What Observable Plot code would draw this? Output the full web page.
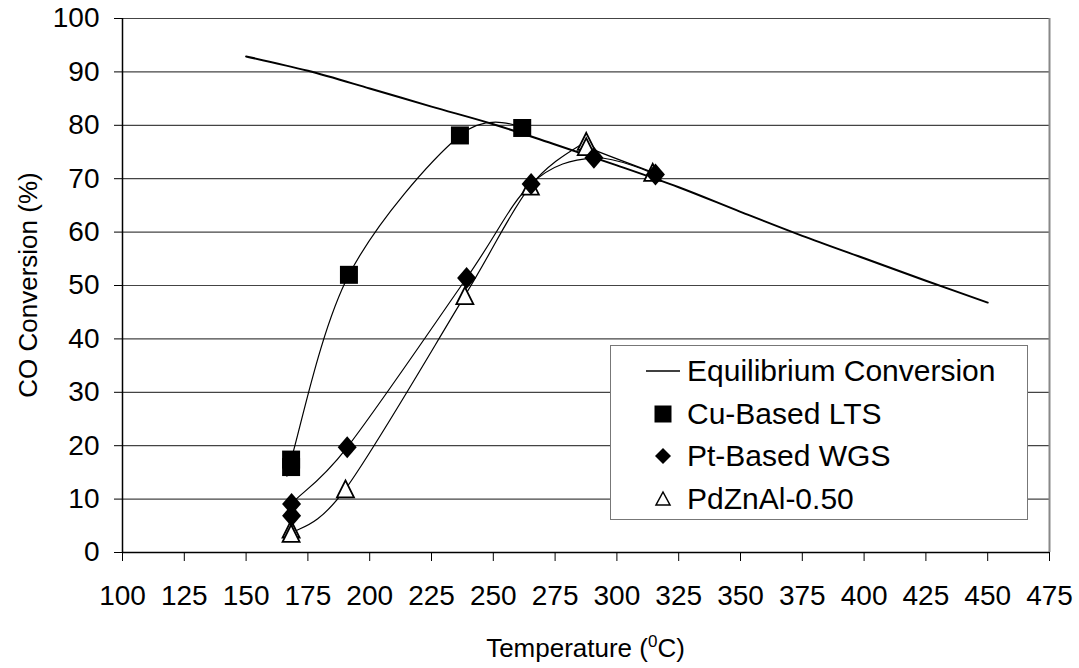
<!DOCTYPE html>
<html><head><meta charset="utf-8">
<script src="https://cdn.jsdelivr.net/npm/d3@7"></script>
<script src="https://cdn.jsdelivr.net/npm/@observablehq/plot@0.6"></script>
<style>
body{margin:0;background:#fff;}
#wrap{position:relative;width:1079px;height:668px;font-family:"Liberation Sans",Arial,sans-serif;}
#legend{position:absolute;left:610px;top:345px;width:416px;height:173px;border:1.5px solid #777;background:#fff;}
.row{position:absolute;left:0;width:416px;height:40px;font-size:30px;color:#000;}
.row svg{position:absolute;left:32px;top:0;}
.row span{position:absolute;left:76px;top:50%;transform:translateY(-50%);white-space:nowrap;}
</style></head><body><div id="wrap"></div>
<script>
// Equilibrium conversion curve
const eqTemp = [150,175,200,225,250,275,300,325,350,375,400,425,450];
const eqConv = [92.9,90.2,86.9,83.5,80.2,76.4,72.5,68.4,63.8,59.3,55.1,50.9,46.8];
// Cu-Based LTS
const cuTemp = [168.2,168.2,191.6,236.5,261.7];
const cuConv = [16.0,17.4,52.0,78.1,79.5];
// Pt-Based WGS
const ptTemp = [168.4,168.4,190.9,239.2,265.3,290.7,315.6];
const ptConv = [6.9,9.1,19.7,51.4,69.0,73.9,70.8];
// PdZnAl-0.50
const pdTemp = [168.2,168.2,190.2,238.5,265.0,287.6,287.6,314.5];
const pdConv = [4.4,3.6,11.9,48.1,68.6,77.0,76.0,71.2];

const xTicks = d3.range(100, 476, 25);
const yTicks = d3.range(0, 101, 10);
const seriesNames = ["Equilibrium Conversion","Cu-Based LTS","Pt-Based WGS","PdZnAl-0.50"];

const eq = eqTemp.map((t,i)=>({t, c:eqConv[i]}));
const cu = cuTemp.map((t,i)=>({t, c:cuConv[i]}));
const pt = ptTemp.map((t,i)=>({t, c:ptConv[i]}));
const pd = pdTemp.map((t,i)=>({t, c:pdConv[i]}));

const squareSym = {draw(ctx){ const s=9; ctx.rect(-s,-s,2*s,2*s); }};
const diamondSym = {draw(ctx){ const w=9.5, h=11; ctx.moveTo(0,-h); ctx.lineTo(w,0); ctx.lineTo(0,h); ctx.lineTo(-w,0); ctx.closePath(); }};
const triSym = {draw(ctx){ const w=8.5, h=8.5; ctx.moveTo(0,-h); ctx.lineTo(w,h); ctx.lineTo(-w,h); ctx.closePath(); }};

const chart = Plot.plot({
  width: 1079, height: 668,
  marginLeft: 122, marginRight: 30, marginTop: 18, marginBottom: 116,
  style: {fontFamily: "'Liberation Sans', Arial, sans-serif", fontSize: "28px", color: "#000", background: "#fff"},
  x: {domain: [100, 475]},
  y: {domain: [0, 100]},
  marks: [
    Plot.ruleY(yTicks.filter(d=>d>0), {stroke: "#444", strokeWidth: 1.2}),
    Plot.ruleX([475], {stroke: "#888", strokeWidth: 2}),
    Plot.line(eq, {x:"t", y:"c", curve:"catmull-rom", stroke:"#000", strokeWidth:2}),
    Plot.line(cu, {x:"t", y:"c", curve:"cardinal", stroke:"#000", strokeWidth:1.2}),
    Plot.line(pt, {x:"t", y:"c", curve:"cardinal", stroke:"#000", strokeWidth:1.2}),
    Plot.line(pd, {x:"t", y:"c", curve:"cardinal", stroke:"#000", strokeWidth:1.2}),
    Plot.dot(cu, {x:"t", y:"c", symbol: squareSym, fill:"#000", stroke:"none"}),
    Plot.dot(pd, {x:"t", y:"c", symbol: triSym, fill:"#fff", stroke:"#000", strokeWidth:1.8}),
    Plot.dot(pt, {x:"t", y:"c", symbol: diamondSym, fill:"#000", stroke:"none"}),
    Plot.ruleX([100], {stroke:"#000", strokeWidth:1.5}),
    Plot.ruleY([0], {stroke:"#000", strokeWidth:1.5}),
    Plot.axisX({ticks: xTicks, tickSize: 9, tickPadding: 24, tickFormat: d=>String(d), label: null, fontSize: 28, stroke:"#000"}),
    Plot.axisY({ticks: yTicks, tickSize: 8, tickPadding: 15, tickFormat: d=>String(d), label: null, fontSize: 28, stroke:"#000"})
  ]
});
document.getElementById("wrap").appendChild(chart);

const svg = d3.select(chart);
svg.append("text")
  .attr("transform", "translate(28,285) rotate(-90)")
  .attr("text-anchor", "middle").attr("dominant-baseline", "central")
  .attr("font-size", 26).attr("fill", "#000")
  .text("CO Conversion (%)");
const xt = svg.append("text").attr("x", 585.5).attr("y", 657)
  .attr("text-anchor", "middle").attr("font-size", 26).attr("fill", "#000");
xt.append("tspan").text("Temperature (");
xt.append("tspan").attr("font-size", 17).attr("dy", -10).text("0");
xt.append("tspan").attr("dy", 10).text("C)");

// Legend
const legend = d3.select("#wrap").append("div").attr("id","legend");
const rowsY = [5, 47.5, 90, 133];
const symPaths = [
  "M3,20 L37,20",
  "M11.5,11.5 h17 v17 h-17 Z",
  "M20,12 L28,20 L20,28 L12,20 Z",
  "M20,13 L27,26 L13,26 Z"
];
seriesNames.forEach((name,i)=>{
  const row = legend.append("div").attr("class","row").style("top", rowsY[i]+"px");
  const s = row.append("svg").attr("width",40).attr("height",40);
  const p = s.append("path").attr("d", symPaths[i]);
  if (i===0) p.attr("stroke","#000").attr("stroke-width",1.5).attr("fill","none");
  else if (i===3) p.attr("stroke","#000").attr("stroke-width",1.5).attr("fill","#fff");
  else p.attr("fill","#000");
  row.append("span").text(name);
});
</script>
</body></html>
